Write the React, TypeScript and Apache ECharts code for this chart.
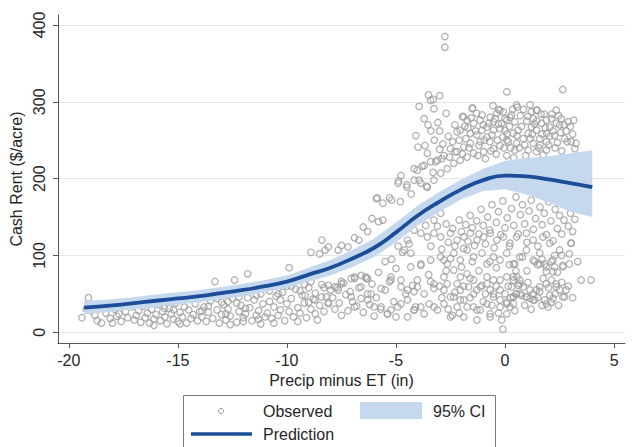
import React, { useEffect, useRef } from "react";
import * as echarts from "echarts";

const xTicks = [-20, -15, -10, -5, 0, 5];
const yTicks = [0, 100, 200, 300, 400];

// Fitted prediction and 95% CI
const fitX = [-19.3, -18, -17, -16, -15, -14, -13, -12, -11, -10, -9, -8, -7, -6, -5, -4, -3, -2, -1, 0, 1, 2, 3, 4];
const fitPred = [32, 35, 38, 41, 44, 47, 51, 55, 60, 66, 75, 84, 96, 110, 130, 152, 170, 186, 198, 204, 203, 199, 194, 189];
const fitLower = [23, 27, 30, 33, 36, 39, 43, 47, 52, 58, 66, 74, 85, 98, 117, 139, 157, 173, 184, 186, 179, 169, 157, 150];
const fitUpper = [41, 43, 46, 49, 52, 55, 59, 63, 68, 74, 84, 94, 107, 122, 143, 165, 183, 199, 213, 223, 227, 229, 233, 237];

// Observed points, grouped by region
const obsDry = [
  [-19.4, 19], [-19.1, 45], [-19.0, 28], [-18.8, 22], [-18.7, 15], [-18.5, 12], [-18.3, 25], [-18.1, 18], [-17.9, 30], [-17.8, 21],
  [-17.6, 14], [-17.4, 27], [-17.3, 19], [-17.1, 33], [-17.0, 16], [-18.9, 35], [-18.4, 31], [-17.7, 24], [-19.2, 30], [-18.0, 12],
  [-16.9, 22], [-16.8, 28], [-16.7, 13], [-16.6, 34], [-16.5, 19], [-16.4, 25], [-16.3, 12], [-16.2, 30], [-16.1, 17], [-16.0, 23],
  [-15.9, 36], [-15.8, 15], [-15.7, 27], [-15.6, 20], [-15.5, 11], [-15.4, 31], [-15.3, 24], [-15.2, 17], [-15.1, 38], [-15.0, 14],
  [-14.9, 26], [-14.8, 20], [-14.7, 33], [-14.6, 12], [-14.5, 29], [-14.4, 18], [-14.3, 23], [-14.2, 37], [-14.1, 15], [-14.0, 27],
  [-16.4, 40], [-15.6, 31], [-14.9, 11], [-16.1, 9], [-15.2, 29],
];

const obsLeft = [
  [-13.9, 20], [-13.8, 33], [-13.7, 14], [-13.6, 26], [-13.5, 41], [-13.4, 18], [-13.3, 66], [-13.2, 29], [-13.1, 12], [-13.0, 23],
  [-12.9, 36], [-12.8, 16], [-12.7, 30], [-12.6, 21], [-12.5, 44], [-12.4, 68], [-12.3, 13], [-12.2, 27], [-12.1, 35], [-12.0, 19],
  [-11.9, 24], [-11.8, 76], [-11.7, 32], [-11.6, 15], [-11.5, 42], [-11.4, 22], [-11.3, 28], [-11.2, 11], [-11.1, 37], [-11.0, 20],
  [-13.6, 34], [-13.0, 39], [-12.6, 10], [-12.2, 46], [-11.9, 31], [-11.4, 48], [-13.9, 28], [-12.8, 24], [-12.0, 14], [-11.3, 17],
  [-10.9, 25], [-10.8, 40], [-10.7, 18], [-10.6, 33], [-10.5, 47], [-10.4, 22], [-10.3, 29], [-10.2, 52], [-10.1, 15], [-10.0, 37],
  [-9.9, 84], [-9.9, 27], [-9.8, 44], [-9.7, 20], [-9.6, 56], [-9.5, 32], [-9.4, 25], [-9.3, 48], [-9.2, 38], [-9.1, 19],
  [-9.0, 58], [-8.9, 104], [-8.9, 30], [-8.8, 43], [-8.7, 51], [-8.6, 16], [-8.5, 102], [-8.5, 35], [-8.4, 62], [-8.3, 27],
  [-8.2, 46], [-8.1, 39], [-8.0, 55], [-10.6, 12], [-10.3, 42], [-9.5, 14], [-9.2, 62], [-8.7, 24], [-8.3, 58], [-10.0, 60],
  [-8.41, 46], [-8.71, 42], [-9.0, 39], [-9.17, 48], [-8.1, 61], [-8.1, 37],
  [-13.2, 44], [-12.7, 40], [-12.3, 38], [-11.8, 45], [-11.2, 50], [-10.8, 54], [-10.4, 50], [-9.8, 60], [-9.4, 54], [-8.9, 66],
];

const obsMid = [
  [-7.9, 45], [-7.8, 30], [-7.7, 58], [-7.6, 38], [-7.5, 113], [-7.5, 22], [-7.4, 64], [-7.3, 49], [-7.2, 111], [-7.2, 28],
  [-7.1, 53], [-7.0, 40], [-6.9, 123], [-6.9, 70], [-6.8, 34], [-6.7, 120], [-6.7, 58], [-6.6, 44], [-6.5, 137], [-6.5, 26],
  [-6.4, 72], [-6.3, 131], [-6.3, 50], [-6.2, 36], [-6.1, 148], [-6.1, 63], [-6.0, 21], [-5.9, 174], [-5.9, 45], [-5.8, 144],
  [-5.8, 78], [-5.7, 30], [-5.6, 168], [-5.6, 146], [-5.5, 55], [-5.4, 24], [-5.3, 175], [-5.3, 66], [-5.2, 172], [-5.1, 40],
  [-5.0, 83], [-5.0, 20], [-8.1, 111], [-8.25, 107], [-7.65, 107], [-8.4, 120],
  [-7.5, 66], [-6.9, 72], [-6.3, 70], [-6.6, 59], [-7.65, 55], [-7.05, 46], [-6.3, 42], [-6.9, 33], [-6.0, 33], [-5.38, 24],
  [-5.23, 72], [-5.68, 33], [-5.23, 29], [-5.23, 68], [-5.68, 57], [-6.14, 50], [-6.36, 70], [-6.59, 74], [-7.05, 70], [-7.5, 63],
  [-7.8, 59], [-5.5, 92], [-5.86, 175],
];

const obsUpper = [
  [-4.77, 204], [-4.88, 197], [-4.5, 192], [-4.17, 213], [-3.94, 198], [-4.09, 256], [-3.99, 241], [-3.67, 243], [-3.24, 250], [-3.56, 233],
  [-3.18, 222], [-3.94, 294], [-3.71, 278], [-3.53, 270], [-3.08, 273], [-3.51, 309], [-3.29, 303], [-2.99, 308], [-3.26, 291], [-2.7, 285],
  [-2.6, 255], [-2.76, 385], [-2.76, 371], [-4.9, 194], [-4.5, 189], [-4.8, 170], [-3.4, 262], [-3.0, 238], [-2.9, 226], [-3.8, 216],
  [-3.3, 208], [-4.3, 180], [-3.6, 190], [-3.41, 302], [-1.5, 291], [-1.3, 285],
  [-2.2, 261], [-2.05, 263], [-1.59, 259], [-1.29, 257], [-1.06, 263], [-0.83, 267], [-0.53, 263], [-0.23, 265], [-1.44, 272], [-1.14, 276],
  [-0.68, 280], [-0.38, 285], [-0.23, 289], [0, 278], [-0.53, 274], [-0.83, 254], [-1.14, 248], [-1.59, 246], [-1.89, 241], [-2.2, 235],
  [-2.5, 239], [-2.8, 230], [-3.1, 224], [-3.41, 222], [-3.71, 217], [-4.02, 211], [-4.17, 198], [-3.86, 194], [-3.56, 189], [-3.26, 198],
  [-2.95, 207], [-2.65, 213], [-2.35, 220], [-2.05, 224], [-1.74, 228], [-1.44, 233], [-0.98, 235], [-0.53, 239], [-0.23, 243], [0.08, 250],
  [0.08, 313], [2.65, 316], [0.53, 296], [-0.08, 287], [0.3, 283], [0.08, 276], [0.45, 274], [0.0, 263], [0.38, 259], [0.15, 248],
  [0.53, 246], [0.83, 252], [0.45, 237], [0.08, 230],
  [1.21, 287], [1.44, 289], [1.29, 278], [1.21, 267], [1.06, 259], [1.44, 263], [1.67, 272], [1.9, 276], [2.12, 278], [2.35, 289],
  [2.58, 278], [2.05, 267], [1.9, 259], [2.27, 256], [2.73, 252], [3.03, 248], [3.26, 246], [1.9, 248], [1.59, 252], [1.29, 246],
  [1.06, 237], [1.44, 235], [1.9, 237],
  [-2.4, 248], [-2.3, 270], [-1.95, 281], [-1.8, 252], [-1.7, 266], [-1.2, 243], [-1.0, 270], [-0.9, 226], [-0.7, 248], [-0.6, 257],
  [-0.4, 232], [-0.3, 271], [-0.1, 254], [0.2, 268], [0.4, 227], [0.6, 263], [0.7, 282], [0.9, 244], [1.0, 275], [1.15, 252],
  [1.35, 271], [1.55, 240], [1.7, 258], [1.8, 284], [2.0, 244], [2.2, 262], [2.4, 247], [2.5, 270], [2.6, 236], [2.8, 262],
  [2.9, 274], [3.1, 258], [3.2, 239], [2.45, 282], [1.75, 231], [0.95, 230], [-3.0, 262], [-2.85, 245], [-2.55, 228],
  [-1.49, 292], [0.56, 293], [1.47, 289], [-0.3, 290], [0.23, 280], [-1.9, 280], [-1.74, 276],
  [-2.3, 235], [-2.1, 250], [-1.95, 232], [-1.85, 268], [-1.65, 240], [-1.55, 279], [-1.35, 262], [-1.25, 230], [-1.05, 283], [-0.95, 250],
  [-0.75, 272], [-0.65, 236], [-0.45, 278], [-0.35, 250], [-0.15, 272], [-0.05, 240], [0.1, 258], [0.25, 240], [0.35, 290], [0.55, 256],
  [0.65, 240], [0.75, 268], [0.85, 290], [1.05, 281], [1.25, 258], [1.45, 275], [1.6, 244], [1.65, 284], [1.85, 266], [2.05, 255],
  [2.15, 284], [2.3, 240], [2.55, 260], [2.7, 270], [2.85, 248], [3.0, 268], [3.15, 276], [2.35, 272], [1.15, 296], [-0.55, 295],
];

const obsLower = [
  [-4.77, 37], [-4.47, 42], [-4.17, 29], [-3.86, 33], [-3.48, 37], [-3.26, 33], [-2.8, 37], [-2.42, 22], [-2.2, 33], [-2.35, 46],
  [-1.89, 42], [-1.44, 33], [-1.14, 29], [-0.68, 24], [-0.23, 42], [0.08, 39], [0.38, 46], [0.68, 50], [0.98, 46], [1.29, 42],
  [1.89, 37], [2.2, 44], [2.65, 46], [2.8, 55], [2.35, 59], [1.59, 59], [1.14, 55], [0.68, 63], [0.38, 68], [0.08, 72],
  [-0.53, 68], [-0.83, 72], [-0.68, 55], [-0.53, 50], [-0.23, 55], [-1.06, 61], [-1.44, 50], [-1.67, 59], [-2.05, 55], [-2.2, 63],
  [-2.65, 63], [-2.8, 72], [-3.26, 57], [-3.41, 66], [-4.17, 53], [-4.47, 55], [-4.77, 59],
  [-2.8, 94], [-2.35, 103], [-2.05, 94], [-1.74, 107], [-1.44, 98], [-1.06, 103], [-0.83, 89], [-0.53, 98], [-0.23, 94], [0.08, 103],
  [0.38, 89], [0.68, 98], [0.98, 107], [1.29, 94], [1.59, 103], [1.89, 85], [2.2, 94], [2.65, 85], [2.95, 89], [3.03, 116],
  [3.33, 92], [2.5, 107], [2.05, 116], [1.74, 124], [1.29, 120], [0.98, 129], [0.53, 124], [0.23, 116], [-0.08, 124], [-0.38, 120],
  [-0.68, 129], [-0.98, 124], [-1.29, 120], [-1.59, 129], [-1.89, 124], [-2.2, 120], [-2.5, 129], [-2.95, 124], [-3.26, 129], [-3.56, 124],
  [-3.86, 129], [-4.32, 103], [-4.62, 107], [-4.47, 120], [-4.17, 133], [-4.02, 146], [-3.64, 139], [-3.26, 146], [-2.95, 155], [-3.56, 159],
  [-3.4, 112], [-3.1, 138], [-2.9, 108], [-2.7, 141], [-2.6, 117], [-2.4, 135], [-2.3, 112], [-2.1, 146], [-2.0, 131], [-1.9, 109],
  [-1.8, 140], [-1.7, 118], [-1.6, 152], [-1.5, 136], [-1.4, 113], [-1.3, 145], [-1.2, 128], [-1.1, 160], [-1.0, 139], [-0.9, 115],
  [-0.8, 150], [-0.7, 133], [-0.6, 166], [-0.5, 110], [-0.4, 143], [-0.3, 157], [-0.2, 127], [-0.1, 171], [0.0, 136], [0.1, 149],
  [0.2, 112], [0.3, 161], [0.4, 139], [0.5, 176], [0.6, 128], [0.7, 153], [0.8, 166], [0.9, 141], [1.0, 117], [1.1, 158],
  [1.2, 172], [1.3, 134], [1.4, 148], [1.5, 112], [1.6, 163], [1.7, 140], [1.8, 155], [1.9, 127], [2.0, 170], [2.1, 145],
  [2.2, 119], [2.3, 160], [2.4, 135], [2.5, 152], [2.6, 128], [2.7, 146], [2.8, 166], [2.9, 138], [3.0, 155], [3.1, 131],
  [3.2, 147], [-2.5, 96], [-1.5, 92], [-0.4, 84], [0.5, 80], [1.5, 88], [2.4, 78],
  [-3.86, 89], [-3.41, 94], [-2.95, 98], [-2.65, 89], [-2.35, 81], [-2.05, 72], [-1.74, 76], [-1.44, 68], [-1.14, 59], [-0.83, 63],
  [-0.23, 68], [-4.02, 59], [-3.71, 50], [-3.26, 63], [-2.8, 55], [-2.5, 46], [-2.05, 42], [-1.74, 33], [-1.29, 29], [-0.83, 37],
  [-0.53, 46], [-0.23, 33], [0.08, 24], [-4.17, 29], [-3.71, 24], [-3.1, 29], [-2.5, 20], [-1.89, 20], [-1.29, 16], [-0.68, 20],
  [-0.15, 16], [-0.1, 4],
  [0.8, 98], [0.45, 89], [0.38, 72], [0.3, 59], [0.5, 50], [0.38, 37], [1.36, 92], [1.59, 89], [1.89, 79], [2.2, 79],
  [1.82, 89], [2.12, 92], [2.95, 102], [3.49, 68], [3.94, 68], [2.27, 100], [2.27, 85], [2.65, 87], [3.03, 116],
  [0.68, 68], [0.61, 61], [0.83, 59], [0.53, 50], [0.38, 46], [0.08, 37], [0.23, 33], [0.76, 48], [0.98, 46], [1.29, 50],
  [1.44, 55], [1.59, 53], [1.89, 63], [2.12, 68], [2.35, 63], [2.5, 55], [2.73, 46], [2.05, 48], [2.12, 39], [1.97, 33],
  [1.82, 42], [1.36, 42], [1.14, 44],
  [-4.32, 85], [-4.24, 61], [-4.55, 50], [-4.1, 33], [-4.92, 33], [-4.47, 20], [-4.02, 68], [-3.86, 87], [-4.77, 68],
  [-5.2, 95], [-4.7, 104], [-4.4, 115], [-4.9, 112],
  [-2.9, 45], [-2.6, 30], [-2.3, 52], [-2.1, 25], [-1.9, 60], [-1.6, 45], [-1.3, 55], [-1.0, 40], [-0.9, 50], [-0.6, 35],
  [-0.4, 60], [-0.3, 25], [0.0, 50], [0.15, 60], [0.25, 45], [0.45, 28], [0.55, 72], [0.9, 35], [1.05, 65], [1.2, 30],
  [1.5, 45], [1.7, 35], [1.75, 70], [2.0, 58], [2.3, 50], [2.45, 35], [2.6, 65], [2.9, 60], [3.1, 45], [-2.0, 85],
  [-1.2, 80], [-0.7, 92], [0.2, 88], [1.0, 80], [1.7, 95], [2.6, 100], [-3.5, 75], [-3.0, 60], [-2.7, 80], [-1.6, 70],
];

const FONT = "'Liberation Sans', Arial, Helvetica, sans-serif";
const TEXT = "#262626";
const AXIS = "#555555";
const LINE_BLUE = "#1b4d98";
const BAND = "#c5d8ee";
const DOT = "#9d9d9d";

export default function App() {
  const ref = useRef<HTMLDivElement>(null);

  useEffect(() => {
    if (!ref.current) return;
    const chart = echarts.init(ref.current, undefined, { renderer: "svg" });
    const observed = [...obsDry, ...obsLeft, ...obsMid, ...obsUpper, ...obsLower];

    const option: any = {
      animation: false,
      backgroundColor: "#ffffff",
      grid: { left: 54, right: 8, top: 15, bottom: 104, containLabel: false },
      xAxis: {
        type: "value",
        min: -20.5,
        max: 5.5,
        axisLine: { show: true, onZero: false, lineStyle: { color: AXIS, width: 1 } },
        axisTick: { show: true, customValues: xTicks, length: 5, lineStyle: { color: AXIS } },
        axisLabel: { customValues: xTicks, fontSize: 16, color: TEXT, fontFamily: FONT, margin: 9 },
        splitLine: { show: false },
        name: "Precip minus ET (in)",
        nameLocation: "middle",
        nameGap: 27,
        nameTextStyle: { fontSize: 16, color: TEXT, fontFamily: FONT },
      },
      yAxis: {
        type: "value",
        min: -14,
        max: 413,
        axisLine: { show: true, onZero: false, lineStyle: { color: AXIS, width: 1 } },
        axisTick: { show: true, customValues: yTicks, length: 5, lineStyle: { color: AXIS } },
        axisLabel: { customValues: yTicks, rotate: 90, fontSize: 16, color: TEXT, fontFamily: FONT, margin: 10 },
        splitLine: { show: true, lineStyle: { color: "#e6e6e6", width: 1 } },
        name: "Cash Rent ($/acre)",
        nameLocation: "middle",
        nameGap: 30,
        nameTextStyle: { fontSize: 16, color: TEXT, fontFamily: FONT },
      },
      series: [
        {
          name: "Observed",
          type: "scatter",
          data: observed,
          symbol: "circle",
          symbolSize: 6.5,
          itemStyle: { color: "rgba(255,255,255,0)", borderColor: DOT, borderWidth: 1.3 },
          z: 2,
        },
        {
          name: "95% CI",
          type: "custom",
          data: [[fitX[0], fitLower[0]]],
          z: 3,
          silent: true,
          renderItem: (params: any, api: any) => {
            const top = fitX.map((x, i) => api.coord([x, fitUpper[i]]));
            const bottom = fitX.map((x, i) => api.coord([x, fitLower[i]])).reverse();
            return {
              type: "polygon",
              shape: { points: [...top, ...bottom] },
              style: { fill: BAND, stroke: "none" },
            };
          },
        },
        {
          name: "Prediction",
          type: "line",
          data: fitX.map((x, i) => [x, fitPred[i]]),
          smooth: true,
          symbol: "none",
          lineStyle: { color: LINE_BLUE, width: 3.8 },
          z: 4,
        },
      ],
      graphic: [
        { type: "rect", shape: { x: 183.5, y: 395.5, width: 312, height: 70 }, style: { fill: "#ffffff", stroke: "#7a7a7a", lineWidth: 1 }, z: 10 },
        { type: "circle", shape: { cx: 221, cy: 411, r: 2.6 }, style: { fill: "none", stroke: DOT, lineWidth: 1 }, z: 11 },
        { type: "text", x: 263, y: 411, style: { text: "Observed", font: `16px ${FONT}`, fill: TEXT, verticalAlign: "middle", align: "left" }, z: 11 },
        { type: "rect", shape: { x: 360, y: 402, width: 62, height: 17 }, style: { fill: BAND }, z: 11 },
        { type: "text", x: 433, y: 411, style: { text: "95% CI", font: `16px ${FONT}`, fill: TEXT, verticalAlign: "middle", align: "left" }, z: 11 },
        { type: "line", shape: { x1: 191, y1: 434, x2: 252, y2: 434 }, style: { stroke: LINE_BLUE, lineWidth: 3.5 }, z: 11 },
        { type: "text", x: 263, y: 434, style: { text: "Prediction", font: `16px ${FONT}`, fill: TEXT, verticalAlign: "middle", align: "left" }, z: 11 },
      ],
    };

    chart.setOption(option);
    return () => chart.dispose();
  }, []);

  return (
    <div
      ref={ref}
      style={{ position: "fixed", left: 0, top: 0, width: 633, height: 447, background: "#fff" }}
    />
  );
}
